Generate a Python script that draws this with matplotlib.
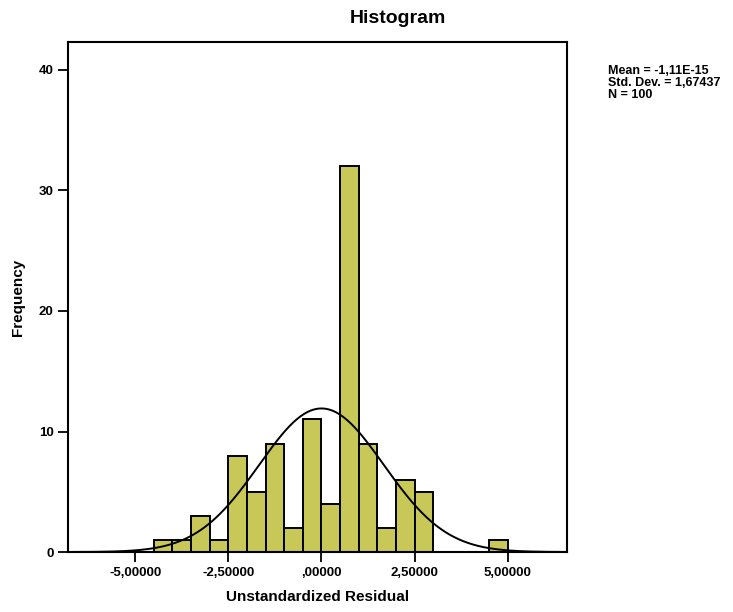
import numpy as np
import matplotlib.pyplot as plt

plt.rcParams['font.family'] = ['Liberation Sans', 'DejaVu Sans']

# histogram bins (width 0,5) and counts
bin_left = [-4.5, -4.0, -3.5, -3.0, -2.5, -2.0, -1.5, -1.0, -0.5, 0.0, 0.5, 1.0, 1.5, 2.0, 2.5, 4.5]
counts = [1, 1, 3, 1, 8, 5, 9, 2, 11, 4, 32, 9, 2, 6, 5, 1]
bin_width = 0.5

# summary stats shown by SPSS
mean = -1.11e-15
std = 1.67437
n = 100

xticks = [-5, -2.5, 0, 2.5, 5]
xticklabels = ['-5,00000', '-2,50000', ',00000', '2,50000', '5,00000']
yticks = [0, 10, 20, 30, 40]

fig = plt.figure(figsize=(7.33, 6.12), dpi=100)
ax = fig.add_axes([0.093, 0.098, 0.681, 0.833])

ax.bar(bin_left, counts, width=bin_width, align='edge', color='#c8c858',
       edgecolor='black', linewidth=1.4, zorder=2)

# fitted normal curve
xs = np.linspace(-6.8, 6.6, 400)
ys = n * bin_width / (std * np.sqrt(2 * np.pi)) * np.exp(-0.5 * ((xs - mean) / std) ** 2)
ax.plot(xs, ys, color='black', linewidth=1.4, zorder=3)

ax.set_xlim(-6.8, 6.6)
ax.set_ylim(0, 42.3)
ax.set_xticks(xticks)
ax.set_xticklabels(xticklabels)
ax.set_yticks(yticks)
ax.tick_params(direction='out', length=7, width=1.3, labelsize=9.5)
for lab in ax.get_xticklabels() + ax.get_yticklabels():
    lab.set_fontweight('bold')
for s in ax.spines.values():
    s.set_linewidth(1.5)

ax.set_xlabel('Unstandardized Residual', fontsize=11, fontweight='bold', labelpad=8)
ax.set_ylabel('Frequency', fontsize=11, fontweight='bold', labelpad=10)
fig.text(0.543, 0.969, 'Histogram', ha='center', va='center', fontsize=14, fontweight='bold')

fig.text(0.829, 0.893, 'Mean = -1,11E-15\nStd. Dev. = 1,67437\nN = 100',
         ha='left', va='top', fontsize=9, fontweight='bold', linespacing=0.97)

fig.savefig('out.png', dpi=100, facecolor='white')
